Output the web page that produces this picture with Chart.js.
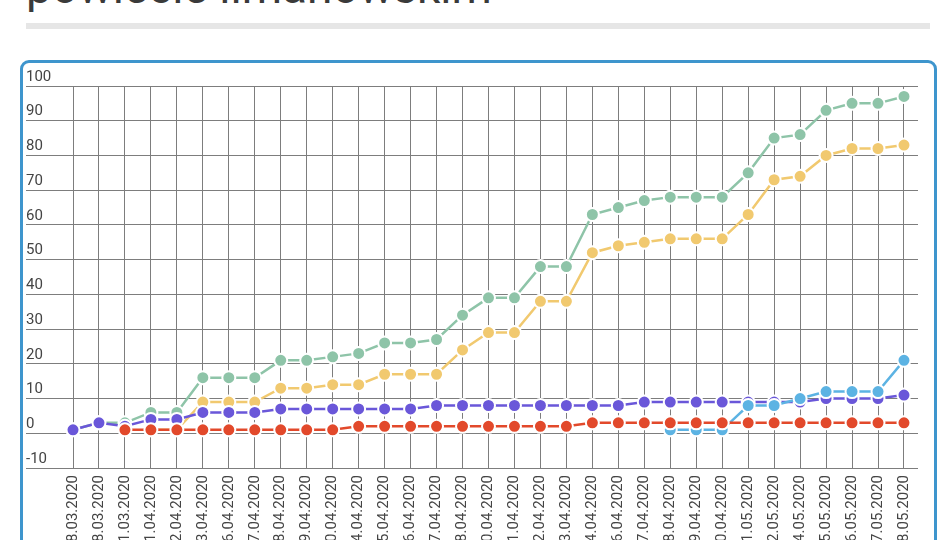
<!DOCTYPE html>
<html>
<head>
<meta charset="utf-8">
<script src="https://cdn.jsdelivr.net/npm/chart.js@4.4.1/dist/chart.umd.min.js"></script>
<style>
    html, body { margin: 0; padding: 0; width: 950px; height: 540px; overflow: hidden; background: #fff; }
    .title { position: absolute; left: 26px; top: -36px; font-family: Roboto, sans-serif; font-size: 46px; line-height: 46px; color: #3a3a3a; white-space: nowrap; }
    .bar { position: absolute; left: 26px; top: 23px; width: 904px; height: 6px; background: #e6e6e6; }
    .card { position: absolute; left: 20px; top: 60px; width: 911px; height: 600px; border: 3px solid #3e95cd; border-radius: 9px; background: #fff; }
    .chart-box { position: absolute; left: 0; top: 0; width: 950px; height: 600px; }
</style>
</head>
<body>
<div class="title">powiecie limanowskim</div>
<div class="bar"></div>
<div class="card"></div>
<div class="chart-box"><canvas id="myChart"></canvas></div>
<script>
const dates = [
    '18.03.2020', '28.03.2020', '31.03.2020', '01.04.2020', '02.04.2020', '03.04.2020',
    '06.04.2020', '07.04.2020', '08.04.2020', '09.04.2020', '10.04.2020', '14.04.2020',
    '15.04.2020', '16.04.2020', '17.04.2020', '18.04.2020', '20.04.2020', '21.04.2020',
    '22.04.2020', '23.04.2020', '24.04.2020', '26.04.2020', '27.04.2020', '28.04.2020',
    '29.04.2020', '30.04.2020', '01.05.2020', '02.05.2020', '04.05.2020', '05.05.2020',
    '06.05.2020', '07.05.2020', '08.05.2020'
];

// zakażeni łącznie
const greenValues = [1, 3, 3, 6, 6, 16, 16, 16, 21, 21, 22, 23, 26, 26, 27, 34, 39, 39, 48, 48, 63, 65, 67, 68, 68, 68, 75, 85, 86, 93, 95, 95, 97];
// ozdrowieńcy
const yellowValues = [null, null, null, 1, 1, 9, 9, 9, 13, 13, 14, 14, 17, 17, 17, 24, 29, 29, 38, 38, 52, 54, 55, 56, 56, 56, 63, 73, 74, 80, 82, 82, 83];
// aktywne
const purpleValues = [1, 3, 2, 4, 4, 6, 6, 6, 7, 7, 7, 7, 7, 7, 8, 8, 8, 8, 8, 8, 8, 8, 9, 9, 9, 9, 9, 9, 9, 10, 10, 10, 11];
// zgony
const redValues = [null, null, 1, 1, 1, 1, 1, 1, 1, 1, 1, 2, 2, 2, 2, 2, 2, 2, 2, 2, 3, 3, 3, 3, 3, 3, 3, 3, 3, 3, 3, 3, 3];
const blueValues = [null, null, null, null, null, null, null, null, null, null, null, null, null, null, null, null, null, null, null, null, null, null, null, 1, 1, 1, 8, 8, 10, 12, 12, 12, 21];

const yTicks = [-10, 0, 10, 20, 30, 40, 50, 60, 70, 80, 90, 100];

const toPoints = values => values
    .map((v, i) => ({ x: i, y: v }))
    .filter(p => p.y !== null);

const makeSet = (values, color) => ({
    data: toPoints(values),
    borderColor: color,
    backgroundColor: color,
    borderWidth: 2.5,
    pointRadius: 6.5,
    pointBorderWidth: 2,
    pointBorderColor: '#ffffff',
    pointBackgroundColor: color,
    tension: 0
});

const gridColor = '#7d7d7d';
const ctx = document.getElementById('myChart').getContext('2d');
new Chart(ctx, {
    type: 'line',
    data: {
        datasets: [
            makeSet(redValues, '#e2492b'),
            makeSet(blueValues, '#5cb3e3'),
            makeSet(purpleValues, '#6a57d9'),
            makeSet(yellowValues, '#f1c96f'),
            makeSet(greenValues, '#8ec4a8')
        ]
    },
    options: {
        responsive: true,
        maintainAspectRatio: false,
        animation: false,
        layout: {
            padding: { left: 26, right: 32, top: 86, bottom: 42 }
        },
        plugins: {
            legend: { display: false },
            tooltip: { enabled: false }
        },
        scales: {
            x: {
                type: 'linear',
                bounds: 'data',
                min: -1.81,
                max: 32.54,
                // one tick per date, at each point
                afterBuildTicks: scale => {
                    scale.ticks = dates.map((d, i) => ({ value: i }));
                },
                afterFit: scale => { scale.height = 90; },
                border: { display: false },
                grid: { color: gridColor, drawTicks: false },
                ticks: {
                    autoSkip: false,
                    minRotation: 90,
                    maxRotation: 90,
                    padding: 7,
                    color: '#444',
                    font: { family: 'Roboto', size: 15 },
                    callback: v => dates[Math.round(v)]
                }
            },
            y: {
                min: yTicks[0],
                max: yTicks[yTicks.length - 1],
                border: { display: false },
                grid: { color: gridColor, drawTicks: false },
                ticks: {
                    stepSize: 10,
                    mirror: true,
                    padding: 0,
                    labelOffset: -9,
                    color: '#444',
                    font: { family: 'Roboto', size: 15 }
                }
            }
        }
    }
});
</script>
</body>
</html>
